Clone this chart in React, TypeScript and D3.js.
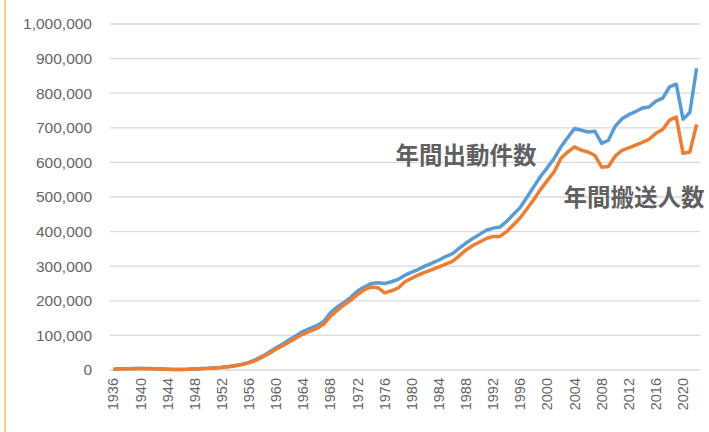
import { useEffect, useRef } from "react";
import * as d3 from "d3";

const years = d3.range(1936, 2023);

// 年間出動件数
const dispatches = [
  2500, 3500, 3800, 4000, 4200, 4000, 3500, 3000, 2500, 1500,
  1500, 2000, 3000, 4000, 5000, 6500, 8000, 10000, 13000, 17000,
  22000, 30000, 40000, 52000, 64000, 75000, 88000, 100000, 112000, 120000,
  128000, 140000, 165000, 182000, 195000, 210000, 228000, 240000, 250000, 252000,
  250000, 255000, 262000, 274000, 283000, 291000, 301000, 309000, 318000, 328000,
  336000, 352000, 367000, 380000, 392000, 404000, 410000, 413000, 430000, 450000,
  470000, 500000, 530000, 560000, 585000, 612000, 645000, 672000, 698000, 693000,
  688000, 690000, 655000, 664000, 705000, 726000, 738000, 747000, 757000, 760000,
  777000, 786000, 818000, 826000, 725000, 744000, 872000,
];

// 年間搬送人数
const transported = [
  2300, 3300, 3600, 3800, 4000, 3800, 3300, 2800, 2300, 1400,
  1400, 1900, 2800, 3700, 4700, 6100, 7500, 9400, 12200, 16000,
  20500, 28000, 37500, 48500, 60000, 70000, 82000, 93000, 104000, 112000,
  120000, 132000, 155000, 172000, 188000, 202000, 218000, 232000, 240000, 238000,
  223000, 229000, 237000, 255000, 265000, 275000, 283000, 290000, 298000, 306000,
  314000, 330000, 347000, 360000, 370000, 380000, 386000, 386000, 400000, 420000,
  440000, 466000, 493000, 522000, 548000, 573000, 612000, 630000, 645000, 635000,
  630000, 620000, 586000, 588000, 618000, 635000, 642000, 650000, 658000, 667000,
  684000, 695000, 722000, 731000, 626000, 630000, 710000,
];

const yTicks = [0, 100000, 200000, 300000, 400000, 500000, 600000, 700000, 800000, 900000, 1000000];
const xTickYears = d3.range(1936, 2021, 4);

const W = 709;
const H = 432;

export default function App() {
  const ref = useRef<SVGSVGElement>(null);

  useEffect(() => {
    if (!ref.current) return;
    const svg = d3.select(ref.current);
    svg.selectAll("*").remove();

    const x = d3
      .scaleBand<number>()
      .domain(years)
      .range([110, 700]);
    const cx = (yr: number) => x(yr)! + x.bandwidth() / 2;
    const y = d3.scaleLinear().domain([0, 1000000]).range([370, 24]);

    svg.append("rect").attr("width", W).attr("height", H).attr("fill", "#fff");

    // left accent line
    svg
      .append("line")
      .attr("x1", 5)
      .attr("x2", 5)
      .attr("y1", 0)
      .attr("y2", H)
      .attr("stroke", "#F5C04A")
      .attr("stroke-width", 1.5);

    // grid
    svg
      .selectAll("line.grid")
      .data(yTicks)
      .join("line")
      .attr("class", "grid")
      .attr("x1", 110)
      .attr("x2", 700)
      .attr("y1", (d) => y(d))
      .attr("y2", (d) => y(d))
      .attr("stroke", "#D9D9D9")
      .attr("stroke-width", 1.3);

    // y labels
    svg
      .selectAll("text.ylab")
      .data(yTicks)
      .join("text")
      .attr("class", "ylab")
      .attr("x", 92)
      .attr("y", (d) => y(d))
      .attr("dy", "0.35em")
      .attr("text-anchor", "end")
      .attr("font-family", "Liberation Sans, Arial, sans-serif")
      .attr("font-size", 15.5)
      .attr("fill", "#666")
      .text((d) => d3.format(",")(d));

    // x labels
    svg
      .selectAll("text.xlab")
      .data(xTickYears)
      .join("text")
      .attr("class", "xlab")
      .attr("transform", (d) => `translate(${cx(d)},378) rotate(-90)`)
      .attr("dy", "0.35em")
      .attr("text-anchor", "end")
      .attr("font-family", "Liberation Sans, Arial, sans-serif")
      .attr("font-size", 14.5)
      .attr("fill", "#666")
      .text((d) => String(d));

    const line = d3
      .line<number>()
      .x((_, i) => cx(years[i]))
      .y((d) => y(d));

    svg
      .append("path")
      .datum(dispatches)
      .attr("d", line)
      .attr("fill", "none")
      .attr("stroke", "#5B9BD5")
      .attr("stroke-width", 3.5)
      .attr("stroke-linejoin", "round");

    svg
      .append("path")
      .datum(transported)
      .attr("d", line)
      .attr("fill", "none")
      .attr("stroke", "#ED7D31")
      .attr("stroke-width", 3.5)
      .attr("stroke-linejoin", "round");

    const labels = [
      { text: "年間出動件数", x: 466, y: 156 },
      { text: "年間搬送人数", x: 634, y: 198 },
    ];
    svg
      .selectAll("text.series")
      .data(labels)
      .join("text")
      .attr("class", "series")
      .attr("x", (d) => d.x)
      .attr("y", (d) => d.y)
      .attr("dy", "0.36em")
      .attr("text-anchor", "middle")
      .attr("font-family", "Noto Sans CJK JP, sans-serif")
      .attr("font-weight", "bold")
      .attr("font-size", 23.5)
      .attr("fill", "#606060")
      .text((d) => d.text);
  }, []);

  return (
    <svg
      ref={ref}
      width={W}
      height={H}
      style={{ position: "absolute", left: 0, top: 0 }}
    />
  );
}
